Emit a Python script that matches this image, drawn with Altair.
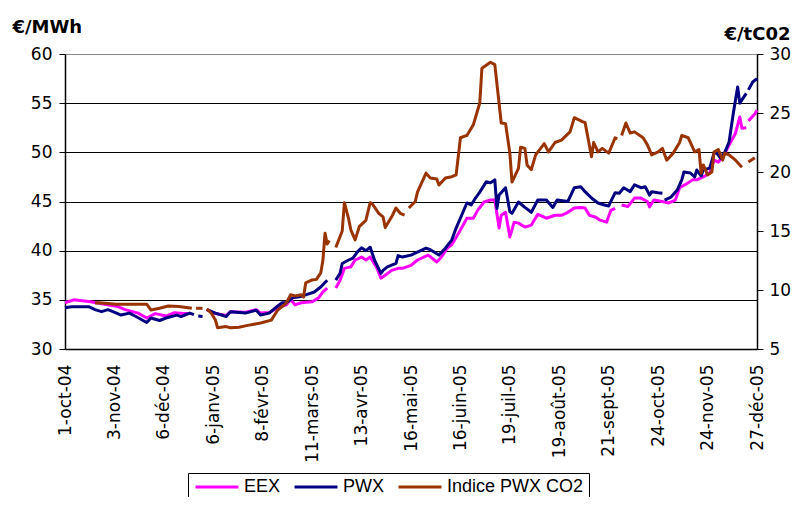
import altair as alt
import pandas as pd

# ---------------- data ----------------
TICK_LABELS = ["1-oct-04", "3-nov-04", "6-déc-04", "6-janv-05", "8-févr-05",
               "11-mars-05", "13-avr-05", "16-mai-05", "16-juin-05", "19-juil-05",
               "19-août-05", "21-sept-05", "24-oct-05", "24-nov-05", "27-déc-05"]
STEP = 23          # trading days between two labelled ticks
LAST_DAY = 322

SERIES = ["EEX", "PWX", "Indice PWX CO2"]
COLORS = ["#FF00FF", "#000080", "#993300"]

# (trading day, €/MWh) ; None marks a gap in the line
eex = [(0, 34.7), (4, 35.0), (12, 34.8), (17, 34.6), (24, 34.35), (28, 34.0), (34, 33.65),
       (38, 33.15), (42, 33.6), (47, 33.35), (51, 33.7), (55, 33.6), (58, 33.6), None,
       (66, 34.0), (70, 33.6), (75, 33.4), (77, 33.8), (84, 33.75), (89, 34.0), (91, 33.65),
       (95, 33.7), (99, 34.2), (103, 34.5), (105, 35.0), (107, 34.5), (110, 34.7), (115, 34.8),
       (118, 35.2), (120, 35.8), (122, 36.2), None,
       (126, 36.2), (128, 37.0), (130, 38.2), (133, 38.35), (135, 39.05), (138, 39.35),
       (140, 39.05), (142, 39.35), (145, 38.3), (147, 37.2), (149, 37.5), (152, 38.0),
       (155, 38.2), (157, 38.2), (161, 38.5), (164, 39.05), (169, 39.55), (173, 38.85),
       (175, 39.3), (178, 40.3), (180, 40.6), (184, 42.1), (187, 43.3), (190, 43.3),
       (192, 44.1), (195, 44.95), (198, 45.15), (200, 45.15), (202, 42.3), (203, 43.6),
       (205, 43.9), (207, 41.4), (209, 42.9), (211, 42.8), (214, 42.4), (217, 42.6),
       (220, 43.7), (224, 43.3), (228, 43.6), (231, 43.6), (234, 43.9), (237, 44.35),
       (240, 44.4), (242, 44.35), (244, 43.6), (247, 43.4), (249, 43.1), (252, 42.9),
       (254, 44.1), (256, 44.3), None,
       (259, 44.65), (262, 44.5), (265, 45.35), (268, 45.35), (271, 45.0), (272, 44.45),
       (274, 45.15), (279, 44.95), (281, 44.85), (284, 45.15), (286, 46.4), (290, 46.9),
       (292, 47.2), (294, 47.2), (297, 47.5), (300, 47.9), (302, 49.2), (304, 49.0),
       (307, 49.9), (309, 50.75), (312, 51.95), (314, 53.6), (315, 52.45), (317, 52.5), None,
       (318, 53.2), (321, 53.9), (322, 54.3)]

pwx = [(0, 34.2), (3, 34.3), (11, 34.3), (14, 34.0), (17, 33.8), (20, 34.0), (24, 33.65),
       (26, 33.45), (30, 33.65), (33, 33.3), (38, 32.7), (40, 33.15), (44, 32.9), (47, 33.15),
       (52, 33.45), (54, 33.3), (58, 33.65), (60, 33.5), None,
       (62, 33.35), (64, 33.3), None,
       (66, 34.0), (70, 33.65), (75, 33.3), (77, 33.8), (84, 33.65), (89, 33.95), (91, 33.45),
       (95, 33.65), (98, 34.2), (101, 34.7), (103, 34.7), (106, 35.2), (109, 35.3),
       (112, 35.5), (116, 35.8), (119, 36.3), (122, 37.0), None,
       (126, 37.0), (128, 37.7), (129, 38.7), (132, 39.05), (134, 39.25), (136, 39.85),
       (138, 40.3), (140, 40.0), (142, 40.35), (144, 39.05), (147, 37.7), (148, 38.0),
       (150, 38.35), (154, 38.7), (155, 39.5), (157, 39.35), (161, 39.55), (168, 40.25),
       (170, 40.1), (174, 39.55), (177, 40.25), (180, 41.1), (182, 42.3), (187, 44.85),
       (189, 44.65), (191, 45.35), (193, 45.95), (196, 47.0), (198, 46.9), (200, 47.2),
       (201, 44.3), (202, 45.65), (205, 46.4), (207, 43.95), (208, 43.8), (211, 44.95),
       (214, 44.4), (217, 43.9), (220, 45.15), (224, 45.15), (227, 44.4), (229, 45.15),
       (234, 45.0), (237, 46.4), (240, 46.5), (242, 46.0), (245, 45.35), (248, 44.85),
       (251, 44.65), (253, 44.55), (256, 45.9), (258, 45.85), (260, 46.4), (263, 46.0),
       (265, 46.7), (268, 46.4), (270, 46.5), (272, 45.65), (273, 46.0), (276, 45.9),
       (278, 45.85), None,
       (279, 45.15), (282, 45.45), (285, 46.2), (287, 47.2), (288, 48.0), (291, 47.9),
       (293, 47.5), (294, 48.2), (296, 47.6), (297, 48.2), (300, 48.4), (302, 49.9),
       (303, 50.0), (305, 49.4), (307, 50.0), (309, 51.05), (311, 54.0), (313, 56.65),
       (314, 55.0), (317, 56.0), None,
       (318, 56.35), (320, 57.15), (322, 57.5)]

# (trading day, €/tCO2)
co2 = [(14, 8.9), (16, 8.92), (24, 8.8), (28, 8.8), (38, 8.8), (40, 8.3), (44, 8.45),
       (48, 8.65), (53, 8.6), (59, 8.45), None,
       (61, 8.45), (64, 8.45), None,
       (66, 8.4), (68, 8.05), (70, 7.45), (71, 6.8), (75, 6.9), (77, 6.8), (81, 6.85),
       (85, 7.0), (91, 7.2), (96, 7.45), (99, 8.3), (103, 8.9), (105, 9.6), (107, 9.5),
       (110, 9.6), (111, 9.4), (112, 10.6), (115, 10.85), (117, 10.9), (119, 11.45),
       (120, 12.5), (121, 14.8), (122, 13.9), (123, 14.2), None,
       (126, 13.6), (129, 15.0), (130, 17.4), (132, 16.0), (133, 15.1), (135, 14.25),
       (137, 15.4), (140, 15.9), (142, 17.4), (143, 17.3), (146, 16.5), (148, 16.2),
       (149, 15.3), (152, 16.2), (154, 16.95), (156, 16.5), (158, 16.35), None,
       (160, 16.95), (163, 17.5), (164, 18.3), (168, 19.9), (170, 19.5), (173, 19.4),
       (174, 18.9), (177, 19.5), (180, 19.6), (182, 19.75), (184, 22.9), (187, 23.1),
       (190, 24.0), (193, 25.85), (194, 28.8), (198, 29.3), (200, 29.1), (203, 24.15),
       (205, 24.1), (207, 21.6), (208, 19.15), (211, 20.3), (212, 22.1), (214, 22.0),
       (215, 20.6), (217, 20.2), (219, 21.45), (223, 22.4), (225, 21.7), (228, 22.5),
       (231, 22.7), (235, 23.4), (237, 24.6), (241, 24.25), (242, 24.2), (245, 21.3),
       (246, 22.5), (248, 21.7), (250, 22.0), (253, 21.6), (256, 22.9), (257, 22.8), None,
       (259, 23.1), (261, 24.15), (263, 23.3), (265, 23.4), (269, 22.9), (271, 22.3),
       (273, 21.45), (276, 21.7), (278, 22.0), (280, 21.0), (283, 21.6), (286, 22.5),
       (287, 23.1), (290, 22.9), (292, 22.1), (293, 21.7), (295, 21.9), (296, 19.9),
       (297, 20.6), (299, 19.75), (301, 20.0), (302, 21.7), (304, 21.9), (306, 21.0),
       (307, 21.6), (309, 21.45), (312, 21.0), (315, 20.4), None,
       (318, 20.85), (321, 21.2)]


def to_rows(points, name):
    rows, seg = [], 0
    for p in points:
        if p is None:
            seg += 1
            continue
        rows.append({"day": p[0], "value": p[1], "series": name, "seg": f"{name}-{seg}"})
    return rows


left_df = pd.DataFrame(to_rows(eex, "EEX") + to_rows(pwx, "PWX"))
right_df = pd.DataFrame(to_rows(co2, "Indice PWX CO2"))

# ---------------- chart ----------------
FONT = "DejaVu Sans"
label_array = "[" + ",".join(f"'{t}'" for t in TICK_LABELS) + "]"

x_enc = alt.X(
    "day:Q",
    scale=alt.Scale(domain=[0, LAST_DAY], nice=False, zero=False),
    axis=alt.Axis(
        values=list(range(0, LAST_DAY + 1, STEP)),
        labelExpr=f"{label_array}[round(datum.value / {STEP})]",
        labelAngle=270, labelAlign="right", labelBaseline="middle",
        labelFont=FONT, labelFontSize=17, labelColor="black",
        labelPadding=15, labelOverlap=False, labelBound=False, labelFlush=False,
        ticks=False, grid=False, domainColor="black", domainWidth=1.5,
        title=None,
    ),
)

# long horizontal stroke symbol, kept short in the legend row height
color_enc = alt.Color(
    "series:N",
    scale=alt.Scale(domain=SERIES, range=COLORS),
    legend=alt.Legend(
        title=None, orient="none", legendX=123, legendY=419, direction="horizontal",
        symbolType="M-3,0H3", symbolSize=205, symbolStrokeWidth=3,
        symbolFillColor="transparent", symbolOffset=15,
        labelFont="Liberation Sans", labelFontSize=18, labelColor="black",
        labelOffset=18, columnPadding=7, padding=5,
        strokeColor="black", fillColor="white",
    ),
)

left = alt.Chart(left_df).mark_line(strokeWidth=3, strokeJoin="round").encode(
    x=x_enc,
    y=alt.Y(
        "value:Q",
        scale=alt.Scale(domain=[30, 60], nice=False, zero=False),
        axis=alt.Axis(
            values=[30, 35, 40, 45, 50, 55, 60],
            labelFont=FONT, labelFontSize=17, labelColor="black", labelPadding=7,
            tickSize=6, tickColor="black", domainColor="black", domainWidth=1.5,
            grid=True, gridWidth=1,
            gridColor={"condition": {"test": "datum.value == 60", "value": "#888888"},
                       "value": "black"},
            title="€/MWh", titleAngle=0, titleAlign="left", titleBaseline="alphabetic",
            titleX=-53, titleY=-22, titleFont=FONT, titleFontSize=18,
            titleFontWeight="bold", titleColor="black",
        ),
    ),
    color=color_enc,
    detail="seg:N",
)

right = alt.Chart(right_df).mark_line(strokeWidth=3, strokeJoin="round").encode(
    x=x_enc,
    y=alt.Y(
        "value:Q",
        scale=alt.Scale(domain=[5, 30], nice=False, zero=False),
        axis=alt.Axis(
            orient="right", values=[5, 10, 15, 20, 25, 30],
            labelFont=FONT, labelFontSize=17, labelColor="black", labelPadding=6,
            tickSize=6, tickColor="black", domainColor="black", domainWidth=1.5,
            grid=False,
            title="€/tC02", titleAngle=0, titleAlign="left", titleBaseline="alphabetic",
            titleX=-33, titleY=-15, titleFont=FONT, titleFontSize=18,
            titleFontWeight="bold", titleColor="black",
        ),
    ),
    color=color_enc,
    detail="seg:N",
)

chart = (
    alt.layer(left, right)
    .resolve_scale(y="independent")
    .properties(
        width=692, height=295,
        autosize=alt.AutoSizeParams(type="none"),
        padding={"left": 57, "top": 46, "right": 34, "bottom": 148},
        background="white",
    )
    .configure_view(strokeWidth=0)
)

chart.save("out.html", embed_options={"renderer": "svg", "actions": False})
